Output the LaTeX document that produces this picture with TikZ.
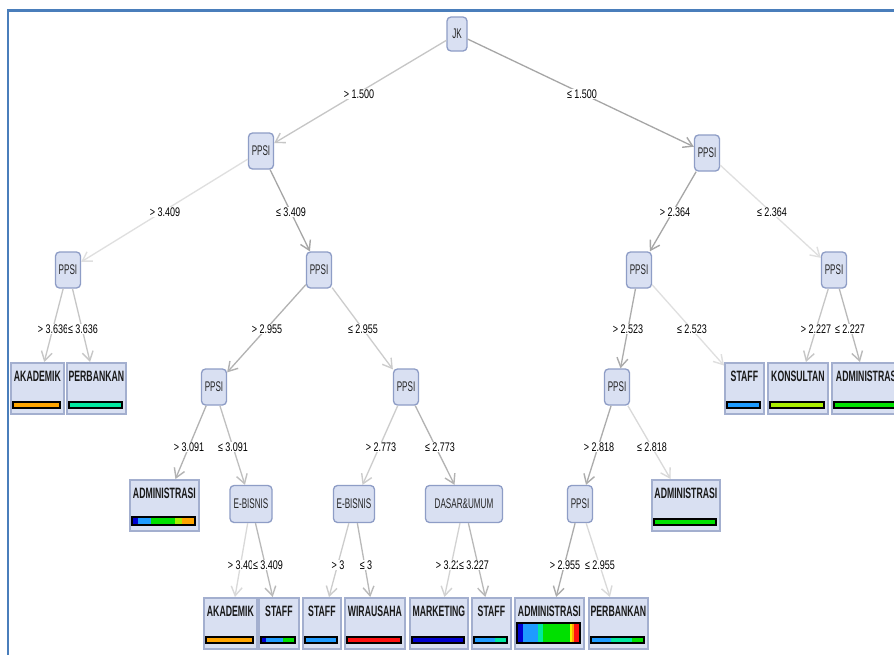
\documentclass[tikz,border=0pt]{standalone}
\usepackage{fontspec}
\setmainfont{Liberation Sans}
\newfontfamily\nfont{Liberation Sans}[FakeStretch=0.58]
\newfontfamily\lfont{Liberation Sans}[FakeStretch=0.72]
\usetikzlibrary{arrows.meta,calc}
\definecolor{nfill}{HTML}{D9E0F2}
\definecolor{nborder}{HTML}{8E9DC6}
\definecolor{lborder}{HTML}{A3AFCF}
\definecolor{bblue}{HTML}{4A7EBB}
\definecolor{cDB}{HTML}{0000D0}
\definecolor{cLB}{HTML}{1E9BFF}
\definecolor{cAQ}{HTML}{00E8A0}
\definecolor{cGR}{HTML}{00E000}
\definecolor{cLM}{HTML}{AAEE00}
\definecolor{cYE}{HTML}{F0F000}
\definecolor{cOR}{HTML}{FFA500}
\definecolor{cRD}{HTML}{FF1010}
\tikzset{
 inode/.style={draw=nborder, fill=nfill, rounded corners=4pt, line width=1.3pt, inner sep=0pt,
   font=\nfont\fontsize{14}{14}\selectfont, text=black!85},
 leafbox/.style={draw=lborder, fill=nfill, line width=1.8pt, inner sep=0pt},
 leaftext/.style={font=\nfont\bfseries\fontsize{15}{15}\selectfont, inner sep=0pt, text=black!90},
 elabel/.style={fill=white, inner sep=1pt, font=\lfont\fontsize{12.5}{12.5}\selectfont},
 edge/.style={line width=1.3pt, -{Straight Barb[length=9pt,width=11pt,line width=1.4pt]}}
}
\newcommand\mkleaf[7]{%
 \node[leafbox, anchor=north west, minimum width={#4-#2}, minimum height=51] (#1) at (#2,#3) {};
 \node[leaftext, yshift=-14pt] (#1t) at (#1.north) {#5};
 \pgfmathsetmacro\yb{#3+51-5}
 \pgfmathsetmacro\ya{\yb-#6}
 \foreach \sa/\sb/\sc in {#7}{
   \pgfmathsetmacro\xa{#2+3+(#4-#2-6)*\sa}
   \pgfmathsetmacro\xb{#2+3+(#4-#2-6)*\sb}
   \fill[\sc] (\xa,\ya) rectangle (\xb,\yb);
 }
 \draw[black, line width=1.1pt] (#2+3,\ya) rectangle (#4-3,\yb);
}
\begin{document}
\begin{tikzpicture}[x=1pt,y=-1pt]
\useasboundingbox (0,0) rectangle (894,654);
\clip (0,0) rectangle (894,654);
\fill[white] (0,0) rectangle (894,654);
\draw[bblue, line width=2.3pt] (7.8,660) -- (7.8,10.5) -- (900,10.5);

% internal nodes
\node[inode, minimum width=20, minimum height=34] (jk) at (457,34) {JK};
\node[inode, minimum width=25, minimum height=36] (p1) at (261,151) {PPSI};
\node[inode, minimum width=25, minimum height=36] (r1) at (707,153) {PPSI};
\node[inode, minimum width=25, minimum height=36] (p2) at (68,270) {PPSI};
\node[inode, minimum width=25, minimum height=36] (p2m) at (319,270) {PPSI};
\node[inode, minimum width=25, minimum height=36] (r2a) at (639,270) {PPSI};
\node[inode, minimum width=25, minimum height=36] (r2b) at (834,270) {PPSI};
\node[inode, minimum width=25, minimum height=36] (p3a) at (214,387) {PPSI};
\node[inode, minimum width=25, minimum height=36] (p3b) at (406,387) {PPSI};
\node[inode, minimum width=25, minimum height=36] (r3) at (617,387) {PPSI};
\node[inode, minimum width=42, minimum height=37] (eb1) at (251,504) {E-BISNIS};
\node[inode, minimum width=41, minimum height=37] (eb2) at (354,504) {E-BISNIS};
\node[inode, minimum width=77, minimum height=37] (das) at (464,504) {DASAR\&UMUM};
\node[inode, minimum width=25, minimum height=37] (r4) at (580,504) {PPSI};

% leaves
\mkleaf{akad1}{10}{362}{63}{AKADEMIK}{6}{0/1/cOR}
\mkleaf{perb1}{66}{362}{125}{PERBANKAN}{6}{0/1/cAQ}
\mkleaf{staffR}{724}{362}{763}{STAFF}{6}{0/1/cLB}
\mkleaf{kons}{767}{362}{827}{KONSULTAN}{6}{0/1/cLM}
\mkleaf{adminR}{831}{362}{902}{ADMINISTRASI}{6}{0/1/cGR}
\mkleaf{adminL}{129}{479}{198}{ADMINISTRASI}{8}{0/0.1/cDB,0.1/0.3/cLB,0.3/0.69/cGR,0.69/0.79/cLM,0.79/1/cOR}
\mkleaf{adminR4}{651}{479}{719}{ADMINISTRASI}{6}{0/1/cGR}
\mkleaf{akad2}{203}{597}{256}{AKADEMIK}{6}{0/1/cOR}
\mkleaf{staff1}{258}{597}{298}{STAFF}{6}{0/0.15/cDB,0.15/0.66/cLB,0.66/1/cGR}
\mkleaf{staff2}{302}{597}{340}{STAFF}{6}{0/1/cLB}
\mkleaf{wira}{344}{597}{404}{WIRAUSAHA}{6}{0/1/cRD}
\mkleaf{mark}{409}{597}{467}{MARKETING}{6}{0/1/cDB}
\mkleaf{staff3}{471}{597}{510}{STAFF}{6}{0/0.65/cLB,0.65/1/cAQ}
\mkleaf{admin5}{514}{597}{583}{ADMINISTRASI}{20}{0/0.09/cDB,0.09/0.34/cLB,0.34/0.42/cAQ,0.42/0.84/cGR,0.84/0.88/cYE,0.88/0.91/cOR,0.91/1/cRD}
\mkleaf{perb5}{588}{597}{647}{PERBANKAN}{6}{0/0.375/cLB,0.375/0.78/cAQ,0.78/1/cGR}

% edges
\draw[edge, draw=gray!45] (jk) -- (p1);
\draw[edge, draw=gray!70] (jk) -- (r1);
\draw[edge, draw=gray!25] (p1) -- (p2);
\draw[edge, draw=gray!70] (p1) -- (p2m);
\draw[edge, draw=gray!45] (p2) -- (akad1);
\draw[edge, draw=gray!45] (p2) -- (perb1);
\draw[edge, draw=gray!60] (p2m) -- (p3a);
\draw[edge, draw=gray!40] (p2m) -- (p3b);
\draw[edge, draw=gray!60] (p3a) -- (adminL);
\draw[edge, draw=gray!50] (p3a) -- (eb1);
\draw[edge, draw=gray!40] (p3b) -- (eb2);
\draw[edge, draw=gray!60] (p3b) -- (das);
\draw[edge, draw=gray!30] (eb1) -- (akad2);
\draw[edge, draw=gray!55] (eb1) -- (staff1);
\draw[edge, draw=gray!40] (eb2) -- (staff2);
\draw[edge, draw=gray!55] (eb2) -- (wira);
\draw[edge, draw=gray!35] (das) -- (mark);
\draw[edge, draw=gray!55] (das) -- (staff3);
\draw[edge, draw=gray!70] (r1) -- (r2a);
\draw[edge, draw=gray!25] (r1) -- (r2b);
\draw[edge, draw=gray!65] (r2a) -- (r3);
\draw[edge, draw=gray!25] (r2a) -- (staffR);
\draw[edge, draw=gray!45] (r2b) -- (kons);
\draw[edge, draw=gray!55] (r2b) -- (adminR);
\draw[edge, draw=gray!65] (r3) -- (r4);
\draw[edge, draw=gray!30] (r3) -- (adminR4);
\draw[edge, draw=gray!65] (r4) -- (admin5);
\draw[edge, draw=gray!30] (r4) -- (perb5);

% edge labels
\node[elabel] (l1a) at (359,94) {> 1.500};
\node[elabel] (l1b) at (582,94) {≤ 1.500};
\node[elabel] (l2a) at (165,212) {> 3.409};
\node[elabel] (l2b) at (291,212) {≤ 3.409};
\node[elabel] (l2c) at (675,212) {> 2.364};
\node[elabel] (l2d) at (772,212) {≤ 2.364};
\node[elabel] (l3a) at (53,329) {> 3.636};
\node[elabel] (l3b) at (83,329) {≤ 3.636};
\node[elabel] (l3c) at (267,329) {> 2.955};
\node[elabel] (l3d) at (363,329) {≤ 2.955};
\node[elabel] (l3e) at (628,329) {> 2.523};
\node[elabel] (l3f) at (692,329) {≤ 2.523};
\node[elabel] (l3g) at (816,329) {> 2.227};
\node[elabel] (l3h) at (850,329) {≤ 2.227};
\node[elabel] (l4a) at (189,447) {> 3.091};
\node[elabel] (l4b) at (233,447) {≤ 3.091};
\node[elabel] (l4c) at (381,447) {> 2.773};
\node[elabel] (l4d) at (440,447) {≤ 2.773};
\node[elabel] (l4e) at (599,447) {> 2.818};
\node[elabel] (l4f) at (652,447) {≤ 2.818};
\node[elabel] (l5a) at (243,565) {> 3.409};
\node[elabel] (l5b) at (268,565) {≤ 3.409};
\node[elabel] (l5c) at (338,565) {> 3};
\node[elabel] (l5d) at (366,565) {≤ 3};
\node[elabel] (l5e) at (451,565) {> 3.227};
\node[elabel] (l5f) at (474,565) {≤ 3.227};
\node[elabel] (l5g) at (565,565) {> 2.955};
\node[elabel] (l5h) at (600,565) {≤ 2.955};
\end{tikzpicture}
\end{document}
